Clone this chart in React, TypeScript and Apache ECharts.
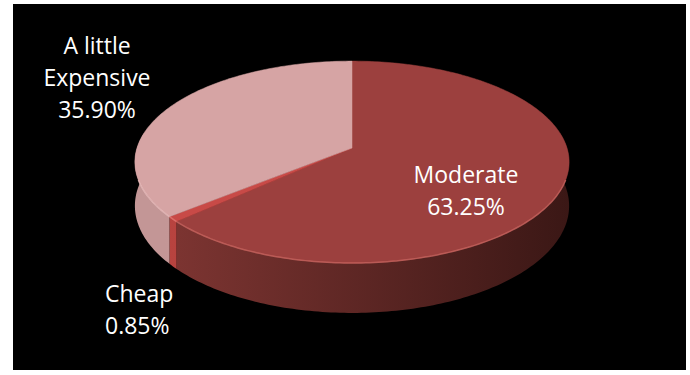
import React, { useEffect, useRef } from 'react';
import * as echarts from 'echarts';

// ---- data ----
const categories = ['Moderate', 'Cheap', 'A little Expensive'];
const shares = [63.25, 0.85, 35.9];

// ---- styles ----
const topColors = ['#9C403E', '#C84A47', '#D6A4A4'];
const sideFrom = ['#7E3532', '#B8433F', '#C39696'];
const sideTo = ['#3A1715', '#A83C39', '#D2A8A8'];
const rimColors = ['rgba(206,104,99,0.75)', 'rgba(230,120,115,0.8)', 'rgba(236,192,192,0.7)'];

// ---- layout (page coordinates) ----
const OX = 13;
const OY = 4;
const labelAnchors: [number, number, 'left' | 'center'][] = [
  [466, 190, 'center'],
  [105, 309, 'left'],
  [97, 77, 'center'],
];
const CX = 352 - OX;
const CY = 148 - OY;
const RX = 215;
const RY = 99;
const K = 0.139;
const DEPTH = 43;

function proj(theta: number, h: number): [number, number] {
  const u = Math.sin(theta);
  const v = -Math.cos(theta);
  const f = 1 / (1 - K * v);
  return [CX + RX * u * f, CY + RY * v * f + h * DEPTH * f];
}

function arcPoints(a: number, b: number, h: number): [number, number][] {
  const pts: [number, number][] = [];
  const n = Math.max(2, Math.ceil(((b - a) * 180) / Math.PI));
  for (let i = 0; i <= n; i++) pts.push(proj(a + ((b - a) * i) / n, h));
  return pts;
}

function wrapName(name: string): string {
  if (name.length <= 12) return name;
  const idx = name.lastIndexOf(' ');
  return idx > 0 ? name.slice(0, idx) + '\n' + name.slice(idx + 1) : name;
}

export default function App() {
  const ref = useRef<HTMLDivElement>(null);
  useEffect(() => {
    if (!ref.current) return;
    const chart = echarts.init(ref.current, undefined, { renderer: 'svg' });
    const total = shares.reduce((s, v) => s + v, 0);
    const starts: number[] = [];
    shares.reduce((acc, v) => {
      starts.push(acc);
      return acc + v;
    }, 0);
    const data = shares.map((v, i) => ({ name: categories[i], value: [v, starts[i]] }));
    const toAng = (x: number) => (x / total) * Math.PI * 2;
    const visLo = Math.PI * 0.45;
    const visHi = Math.PI * 1.55;
    const rimLo = Math.PI * 0.6;
    const rimHi = Math.PI * 1.4;

    chart.setOption({
      animation: false,
      backgroundColor: '#000',
      series: [
        {
          type: 'custom',
          coordinateSystem: 'none',
          z: 1,
          silent: true,
          data,
          renderItem: (params: any, api: any) => {
            const i = params.dataIndex;
            const a = toAng(api.value(1));
            const b = toAng(api.value(1) + api.value(0));
            const lo = Math.max(a, visLo);
            const hi = Math.min(b, visHi);
            if (hi <= lo) return { type: 'group', children: [] };
            const points = arcPoints(lo, hi, 0).concat(arcPoints(lo, hi, 1).reverse());
            return {
              type: 'polygon',
              shape: { points },
              style: {
                fill: new echarts.graphic.LinearGradient(
                  150, 0, 560, 0,
                  [
                    { offset: 0, color: sideFrom[i] },
                    { offset: 1, color: sideTo[i] },
                  ],
                  true
                ),
              },
            };
          },
        },
        {
          type: 'custom',
          coordinateSystem: 'none',
          z: 2,
          silent: true,
          data,
          renderItem: (params: any, api: any) => {
            const i = params.dataIndex;
            const val = api.value(0);
            const a = toAng(api.value(1));
            const b = toAng(api.value(1) + val);
            const topPts = [[CX, CY] as [number, number]].concat(arcPoints(a, b, 0));
            const children: any[] = [
              {
                type: 'polygon',
                shape: { points: topPts },
                style: { fill: topColors[i], stroke: topColors[i], lineWidth: 0.5 },
              },
            ];
            const lo = Math.max(a, rimLo);
            const hi = Math.min(b, rimHi);
            if (hi > lo) {
              children.push({
                type: 'polyline',
                shape: { points: arcPoints(lo, hi, 0) },
                style: { stroke: rimColors[i], lineWidth: 1.5, fill: null },
              });
            }
            const [lx, ly, al] = labelAnchors[i];
            children.push({
              type: 'text',
              x: lx - OX,
              y: ly - OY,
              z2: 10,
              style: {
                text: wrapName(categories[i]) + '\n' + val.toFixed(2) + '%',
                fill: '#ffffff',
                fontSize: 23,
                fontFamily: '"Open Sans", sans-serif',
                align: al,
                verticalAlign: 'middle',
                lineHeight: 32,
              },
            });
            return { type: 'group', children };
          },
        },
      ],
    });
    return () => chart.dispose();
  }, []);

  return (
    <div style={{ position: 'fixed', left: 0, top: 0, width: 690, height: 375, background: '#fff' }}>
      <div
        ref={ref}
        style={{ position: 'absolute', left: OX, top: OY, width: 673, height: 366, background: '#000' }}
      />
    </div>
  );
}
